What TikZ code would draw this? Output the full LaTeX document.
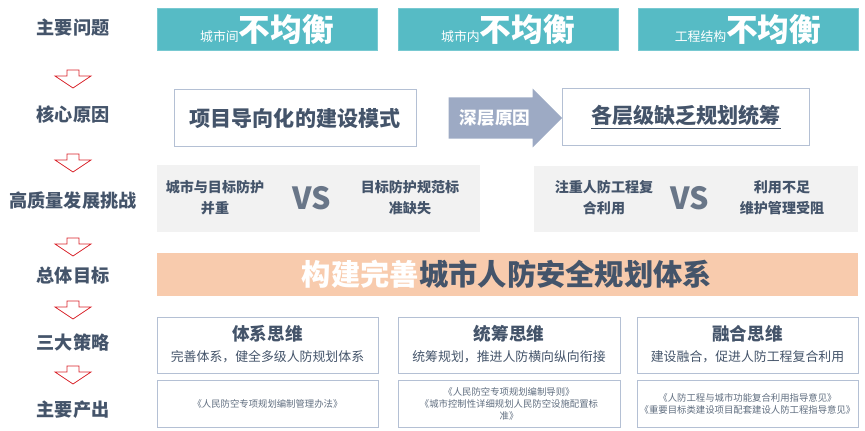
\documentclass[tikz,border=0pt]{standalone}
\usepackage{fontspec}
\setmainfont{Noto Sans CJK SC}
\usetikzlibrary{shapes.arrows}
\definecolor{teal1}{HTML}{56BBC5}
\definecolor{ink}{HTML}{44546A}
\definecolor{deep}{HTML}{9DAAC4}
\definecolor{peach}{HTML}{F8CBAD}
\definecolor{pale}{HTML}{F2F2F2}
\definecolor{edge}{HTML}{B4C0D4}
\definecolor{redline}{HTML}{D9232A}

\begin{document}
\begin{tikzpicture}[x=0.03cm,y=-0.03cm,
  rowlabel/.style={font=\bfseries\fontsize{15.5}{17}\selectfont, text=ink},
  problem/.style={fill=teal1, draw=teal1!80!white, text=white},
  cause/.style={draw=edge, fill=white, line width=0.8pt, text=ink, font=\bfseries\fontsize{18}{20}\selectfont},
  challenge/.style={fill=pale},
  twoline/.style={text=ink, font=\bfseries\fontsize{12}{18}\selectfont, align=center},
  versus/.style={text=ink!80, font=\bfseries\fontsize{26}{26}\selectfont},
  strategy/.style={draw=edge, fill=white, line width=0.8pt},
  downarrow/.style={draw=redline, fill=white, line width=0.6pt}]
\useasboundingbox (0,0) rectangle (865,431);
% row labels
\foreach \name/\txt/\yy in {p/主要问题/28, c/核心原因/115, h/高质量发展挑战/201, g/总体目标/276, s/三大策略/343, o/主要产出/410}
  \node[rowlabel] (lab-\name) at (73,\yy) {\txt};
% hollow arrows between labels
\foreach \yy in {70,154,238,301,366}
  \draw[downarrow] (67,\yy) -- (79,\yy) -- (79,\yy+6) -- (91,\yy+6) -- (73,\yy+18) -- (55,\yy+6) -- (67,\yy+6) -- cycle;
% main problems
\foreach \n/\xa/\xb/\small in {1/157/377/城市间, 2/398/618/城市内, 3/638/858/工程结构}{
  \path[problem] (\xa,8) rectangle (\xb,50);
  \node[text=white] (prob-\n) at ({(\xa+\xb)/2},29)
    {\fontsize{11}{12}\selectfont\small\fontsize{27}{28}\selectfont\bfseries 不均衡};
}
% core causes
\node[cause, minimum width=243*0.85pt, minimum height=58*0.85pt] (cause-a) at (295,118) {项目导向化的建设模式};
\node[single arrow, fill=deep, single arrow head extend=4pt, minimum height=114*0.85pt,
  minimum width=59*0.85pt, inner sep=2pt, text=white, font=\bfseries\fontsize{15}{16}\selectfont] (deep) at (495,118) {深层原因\hspace{8pt}};
\node[cause, minimum width=248*0.85pt, minimum height=58*0.85pt] (cause-b) at (686,117) {\underline{各层级缺乏规划统筹}};
% challenges
\path[challenge] (157,165) rectangle (480,232);
\path[challenge] (534,166) rectangle (858,232);
\node[twoline] (ch-a1) at (215,198) {城市与目标防护\\并重};
\node[versus] (vs-a) at (312,198) {VS};
\node[twoline] (ch-a2) at (410,198) {目标防护规范标\\准缺失};
\node[twoline] (ch-b1) at (604,198) {注重人防工程复\\合利用};
\node[versus] (vs-b) at (690,198) {VS};
\node[twoline] (ch-b2) at (782,198) {利用不足\\维护管理受阻};
% overall goal
\path[fill=peach] (157,253) rectangle (858,296);
\node[font=\bfseries\fontsize{25}{26}\selectfont] (goal) at (507,274)
  {\textcolor{white}{构建完善}\textcolor{ink}{城市人防安全规划体系}};
% strategies and outputs
\foreach \n/\xa/\xb/\head/\sub/\out in {
  1/157/378/体系思维/{完善体系，健全多级人防规划体系}/{《人民防空专项规划编制管理办法》},
  2/398/620/统筹思维/{统筹规划，推进人防横向纵向衔接}/{《人民防空专项规划编制导则》\\《城市控制性详细规划人民防空设施配置标\\准》},
  3/637/858/融合思维/{建设融合，促进人防工程复合利用}/{《人防工程与城市功能复合利用指导意见》\\《重要目标类建设项目配套建设人防工程指导意见》}}{
  \path[strategy] (\xa,317) rectangle (\xb,373);
  \node[text=ink, font=\bfseries\fontsize{15}{16}\selectfont] (head-\n) at ({(\xa+\xb)/2},334) {\head};
  \node[text=ink, font=\fontsize{11}{12}\selectfont] (sub-\n) at ({(\xa+\xb)/2},357) {\sub};
  \path[strategy] (\xa,380) rectangle (\xb,427);
  \node[text=ink!85, align=center, font=\fontsize{8}{10}\selectfont] (out-\n) at ({(\xa+\xb)/2},404) {\out};
}
\end{tikzpicture}
\end{document}
